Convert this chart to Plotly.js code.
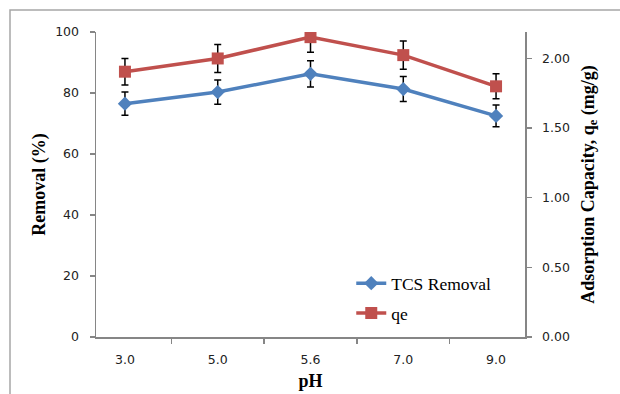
<!DOCTYPE html>
<html>
<head>
<meta charset="utf-8">
<script src="https://cdn.plot.ly/plotly-3.0.1.min.js"></script>
<style>
html,body{margin:0;padding:0;background:#fff;}
#chart{width:620px;height:394px;}
</style>
</head>
<body>
<div id="chart"></div>
<script>
const phLabels = ["3.0", "5.0", "5.6", "7.0", "9.0"];
const removal = [76.5, 80.3, 86.3, 81.3, 72.5];
const removalErr = [3.8, 4.0, 4.3, 4.1, 3.6];
const qe = [1.905, 2.0, 2.153, 2.024, 1.80];
const qeErr = [0.095, 0.100, 0.108, 0.101, 0.090];
const leftTicks = [0, 20, 40, 60, 80, 100];
const rightTicks = [0, 0.5, 1.0, 1.5, 2.0];
const rightTickText = ["0.00", "0.50", "1.00", "1.50", "2.00"];

const axisGray = "#868686";
const tickFont = {family: "DejaVu Sans, Verdana, sans-serif", size: 12.5, color: "#222"};
const titleFont = {family: "Liberation Serif, Times New Roman, serif", size: 18, color: "#000", weight: "bold"};

const traces = [
  {
    x: phLabels, y: removal, name: "TCS Removal", type: "scatter", mode: "lines+markers",
    legendgroup: "a",
    line: {color: "#4F81BD", width: 3.5},
    marker: {symbol: "diamond", size: 11, color: "#4F81BD"},
    error_y: {type: "data", array: removalErr, visible: true, color: "#000", thickness: 1.5, width: 3.5},
    yaxis: "y"
  },
  {
    x: phLabels, y: qe, name: "qe", type: "scatter", mode: "lines+markers",
    legendgroup: "b",
    line: {color: "#C0504D", width: 3.5},
    marker: {symbol: "square", size: 12, color: "#C0504D"},
    error_y: {type: "data", array: qeErr, visible: true, color: "#000", thickness: 1.5, width: 3.5},
    yaxis: "y2"
  }
];

const layout = {
  width: 620, height: 394,
  margin: {l: 96, r: 95, t: 32, b: 57, pad: 0},
  paper_bgcolor: "#fff", plot_bgcolor: "#fff",
  showlegend: true,
  legend: {
    x: 0.595, y: 0.235, xanchor: "left", yanchor: "top",
    font: {family: "Liberation Serif, Times New Roman, serif", size: 17.5, color: "#000"},
    bgcolor: "rgba(0,0,0,0)", traceorder: "grouped", tracegroupgap: 4,
    itemwidth: 30
  },
  xaxis: {
    type: "category", tickson: "boundaries",
    showline: true, linecolor: axisGray, linewidth: 1.5,
    ticks: "outside", ticklen: 5, tickcolor: axisGray, tickwidth: 1.5,
    showgrid: false, zeroline: false,
    tickfont: tickFont, ticklabelstandoff: 10,
    title: {text: "pH", font: titleFont, standoff: 9}
  },
  yaxis: {
    range: [0, 100], tickvals: leftTicks,
    showline: true, linecolor: axisGray, linewidth: 1.5,
    ticks: "outside", ticklen: 5, tickcolor: axisGray, tickwidth: 1.5,
    showgrid: false, zeroline: false,
    tickfont: tickFont, ticklabelstandoff: 8,
    title: {text: "Removal (%)", font: titleFont, standoff: 5}
  },
  yaxis2: {
    overlaying: "y", side: "right",
    range: [0, 2.19], tickvals: rightTicks, ticktext: rightTickText,
    showline: true, linecolor: axisGray, linewidth: 1.5,
    ticks: "outside", ticklen: 5, tickcolor: axisGray, tickwidth: 1.5,
    showgrid: false, zeroline: false,
    tickfont: tickFont, ticklabelstandoff: 8,
    title: {text: "Adsorption Capacity, q<sub>e</sub> (mg/g)", font: titleFont, standoff: 12}
  },
  shapes: [{
    type: "rect", xref: "paper", yref: "paper",
    x0: (10 - 96) / 429, x1: 1.3, y0: -0.3, y1: 1 + 22 / 305,
    line: {color: "#a6a6a6", width: 1.5}, fillcolor: "rgba(0,0,0,0)", layer: "below"
  }]
};

Plotly.newPlot("chart", traces, layout, {displayModeBar: false, staticPlot: true});
</script>
</body>
</html>
